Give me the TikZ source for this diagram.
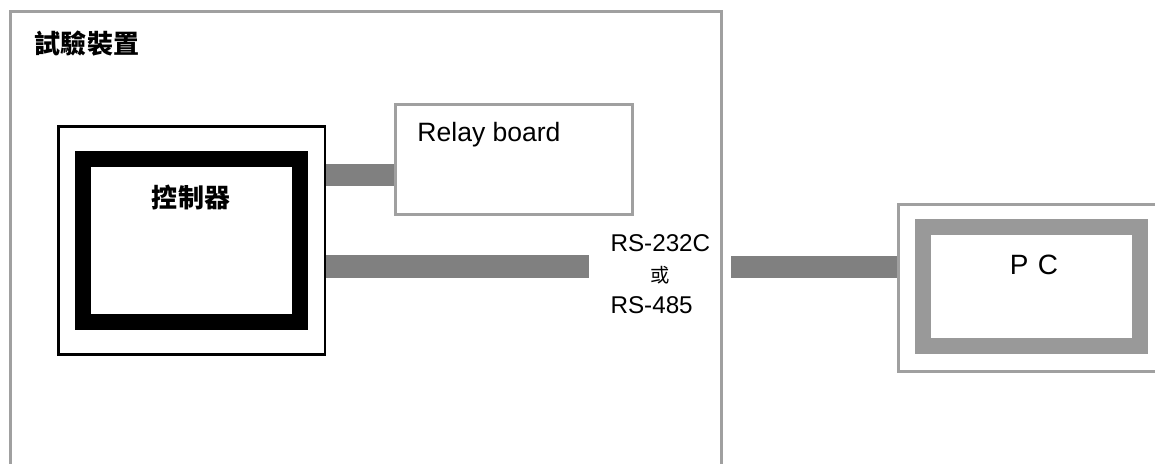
\documentclass[tikz,border=0pt]{standalone}
\usepackage{fontspec}
\setmainfont{Liberation Sans}
\newfontfamily\cjk{Noto Sans CJK TC}
\usepackage{tikz}
\definecolor{framegray}{HTML}{A0A0A0}
\definecolor{bargray}{HTML}{808080}
\definecolor{pcgray}{HTML}{999999}

\begin{document}
\begin{tikzpicture}[x=0.02cm,y=-0.02cm]
		\tikzstyle{frame} = [rectangle, draw=framegray, line width=1.7pt, inner sep=0pt]
		\tikzstyle{blackbox} = [rectangle, draw, line width=1.4pt, inner sep=0pt]
		\tikzstyle{thick frame} = [rectangle, line width=9.07pt, inner sep=0pt]
		\tikzstyle{bar} = [draw=bargray, line width=13pt]
		\useasboundingbox (0,0) rectangle (1155,463);
		\clip (0,0) rectangle (1155,463);
		% test rig
		\node (rig) [frame, minimum width=14.23cm, minimum height=10cm] at (366.25,261.7) {};
		\node (rigtitle) at (87,44) {\cjk\bfseries\fontsize{14.8}{16}\selectfont 試驗裝置};
		% controller
		\node (ctrl) [blackbox, minimum width=5.33cm, minimum height=4.56cm] at (191.75,240.4) {};
		\node (ctrlin) [thick frame, draw=black, minimum width=4.34cm, minimum height=3.26cm] at (191.5,240.5) {};
		\node (ctrltxt) at (191,197) {\cjk\bfseries\fontsize{14.8}{16}\selectfont 控制器};
		% relay board
		\node (relay) [frame, minimum width=4.75cm, minimum height=2.21cm] at (513.75,159.7) {};
		\node (relaytxt) at (489,135) {\fontsize{15.1}{18}\selectfont Relay board};
		% serial line
		\node (rs) at (657,276) {
			\fontsize{13.8}{16.5}\selectfont
			\tabcolsep=0pt
			\renewcommand{\arraystretch}{1.067}
			\begin{tabular}{l}
				RS-232C \\
				\multicolumn{1}{c}{\cjk\fontsize{11}{12}\selectfont 或} \\
				RS-485
			\end{tabular}
		};
		% PC
		\node (pc) [frame, minimum width=5.8cm, minimum height=3.34cm] at (1043,287.9) {};
		\node (pcin) [thick frame, draw=pcgray, minimum width=4.34cm, minimum height=2.38cm] at (1031.5,286.5) {};
		\node (pctxt) at (1034,265) {\fontsize{15.9}{18}\selectfont P\,\,C};
		% connections
		\coordinate (y1) at (0,175);
		\coordinate (y2) at (0,266.5);
		\coordinate (rsend) at (589,266.5);
		\coordinate (rsout) at (731,267);
		\draw[bar] (ctrl.east |- y1) -- (relay.west |- y1);
		\draw[bar] (ctrl.east |- y2) -- (rsend);
		\draw[bar] (rsout) -- (pc.west |- rsout);
	\end{tikzpicture}
\end{document}
